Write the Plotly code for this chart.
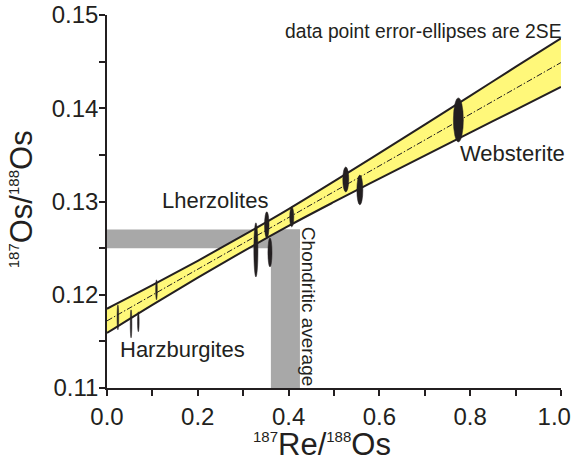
import plotly.graph_objects as go

# ---- data ----
band_x = [0.0, 0.1, 0.2, 0.3, 0.4, 0.5, 0.6, 0.7, 0.8, 0.9, 1.0]
band_upper = [0.1185, 0.12102, 0.12364, 0.12636, 0.12918, 0.13215, 0.13519, 0.13825, 0.14133, 0.14443, 0.1475]
band_lower = [0.1159, 0.11892, 0.12184, 0.12466, 0.12738, 0.12995, 0.13245, 0.13493, 0.13739, 0.13983, 0.1423]
fit_x = [0.0, 1.0]
fit_y = [0.1172, 0.1449]

ell_x = [0.024, 0.053, 0.069, 0.109, 0.328, 0.352, 0.359, 0.407, 0.526, 0.557, 0.774]
ell_y = [0.11758, 0.11688, 0.1171, 0.12053, 0.12481, 0.12749, 0.12454, 0.12835, 0.13237, 0.13124, 0.13875]
ell_dx = [0.0018, 0.0018, 0.0018, 0.0018, 0.0045, 0.0050, 0.0045, 0.0045, 0.0066, 0.0066, 0.011]
ell_dy = [0.00134, 0.0015, 0.00107, 0.00107, 0.0029, 0.0014, 0.00155, 0.00107, 0.00134, 0.0016, 0.00236]

chondritic_x = [0.361, 0.425]
chondritic_y = [0.125, 0.127]

x_range = [0.0, 1.0001]
y_range = [0.11, 0.15]
x_ticks = [0.0, 0.2, 0.4, 0.6, 0.8, 1.0]
x_tick_labels = ["0.0", "0.2", "0.4", "0.6", "0.8", "1.0\u00a0\u00a0"]
x_minor = [0.1, 0.3, 0.5, 0.7, 0.9]
y_ticks = [0.11, 0.12, 0.13, 0.14, 0.15]
y_tick_labels = ["0.11", "0.12", "0.13", "0.14", "0.15"]
y_minor = [0.115, 0.125, 0.135, 0.145]

INK = "#231f20"
FONT = "Liberation Sans, Arial, sans-serif"

fig = go.Figure()

fig.add_trace(go.Scatter(x=band_x, y=band_lower, mode="lines",
                         line=dict(color=INK, width=2, shape="spline"),
                         hoverinfo="skip", showlegend=False))
fig.add_trace(go.Scatter(x=band_x, y=band_upper, mode="lines",
                         line=dict(color=INK, width=2, shape="spline"),
                         fill="tonexty", fillcolor="#fff87a",
                         hoverinfo="skip", showlegend=False))
fig.add_trace(go.Scatter(x=fit_x, y=fit_y, mode="lines",
                         line=dict(color=INK, width=1, dash="6px,2px,1.5px,2px"),
                         hoverinfo="skip", showlegend=False))

shapes = []
shapes.append(dict(type="rect", xref="x", yref="y", layer="below",
                   x0=0.0, x1=chondritic_x[1], y0=chondritic_y[0], y1=chondritic_y[1],
                   fillcolor="#a8a8a8", line=dict(width=0)))
shapes.append(dict(type="rect", xref="x", yref="y", layer="below",
                   x0=chondritic_x[0], x1=chondritic_x[1], y0=y_range[0], y1=chondritic_y[1],
                   fillcolor="#a8a8a8", line=dict(width=0)))
for cx, cy, dx, dy in zip(ell_x, ell_y, ell_dx, ell_dy):
    shapes.append(dict(type="circle", xref="x", yref="y", layer="above",
                       x0=cx - dx, x1=cx + dx, y0=cy - dy, y1=cy + dy,
                       fillcolor=INK, line=dict(color=INK, width=0.5)))

def sup(s):
    return '<sup><span style="font-size:15px">%s</span></sup>' % s

annotations = [
    dict(x=1.0, y=0.1482, xref="x", yref="y", xshift=3, text="data point error-ellipses are 2SE",
         xanchor="right", yanchor="middle", showarrow=False, font=dict(size=19.3, color=INK)),
    dict(x=0.773, y=0.1352, xref="x", yref="y", text="Websterite",
         xanchor="left", yanchor="middle", showarrow=False, font=dict(size=22, color=INK)),
    dict(x=0.117, y=0.1301, xref="x", yref="y", text="Lherzolites",
         xanchor="left", yanchor="middle", showarrow=False, font=dict(size=22, color=INK)),
    dict(x=0.024, y=0.1141, xref="x", yref="y", text="Harzburgites",
         xanchor="left", yanchor="middle", showarrow=False, font=dict(size=22, color=INK)),
    dict(x=0.443, y=0.1188, xref="x", yref="y", text="Chondritic average", textangle=90,
         xanchor="center", yanchor="middle", showarrow=False, font=dict(size=19, color=INK)),
    # axis titles
    dict(x=0.474, y=-0.098, xref="paper", yref="paper", yanchor="top", xanchor="center",
         text=sup("187") + "Re/" + sup("188") + "Os", showarrow=False,
         font=dict(size=31, color=INK)),
    dict(x=-0.188, y=0.505, xref="paper", yref="paper", yanchor="middle", xanchor="center",
         text=sup("187") + "Os/" + sup("188") + "Os", showarrow=False, textangle=-90,
         font=dict(size=31, color=INK)),
]

fig.update_layout(
    width=574, height=459,
    margin=dict(l=107, r=13, t=15, b=71, autoexpand=False),
    paper_bgcolor="white", plot_bgcolor="white",
    font=dict(family=FONT, color=INK),
    shapes=shapes, annotations=annotations,
    showlegend=False,
    xaxis=dict(range=x_range, tickmode="array", tickvals=x_ticks, ticktext=x_tick_labels,
               automargin=False, ticklabeloverflow="allow",
               showgrid=False, zeroline=False, showline=True, linecolor=INK, linewidth=1.5,
               ticks="outside", ticklen=6, tickwidth=1.5, tickcolor=INK,
               minor=dict(tickmode="array", tickvals=x_minor, ticks="outside", ticklen=6,
                          tickwidth=1.5, tickcolor=INK, showgrid=False),
               tickfont=dict(size=24, color=INK)),
    yaxis=dict(range=y_range, tickmode="array", tickvals=y_ticks, ticktext=y_tick_labels,
               automargin=False, ticklabeloverflow="allow", ticklabelstandoff=-4,
               showgrid=False, zeroline=False, showline=True, linecolor=INK, linewidth=1.5,
               ticks="outside", ticklen=6, tickwidth=1.5, tickcolor=INK,
               minor=dict(tickmode="array", tickvals=y_minor, ticks="outside", ticklen=6,
                          tickwidth=1.5, tickcolor=INK, showgrid=False),
               tickfont=dict(size=24, color=INK)),
)

fig.write_html("out.html", config={"displayModeBar": False},
               post_script="document.body.style.margin='0';document.body.style.overflow='hidden';")
